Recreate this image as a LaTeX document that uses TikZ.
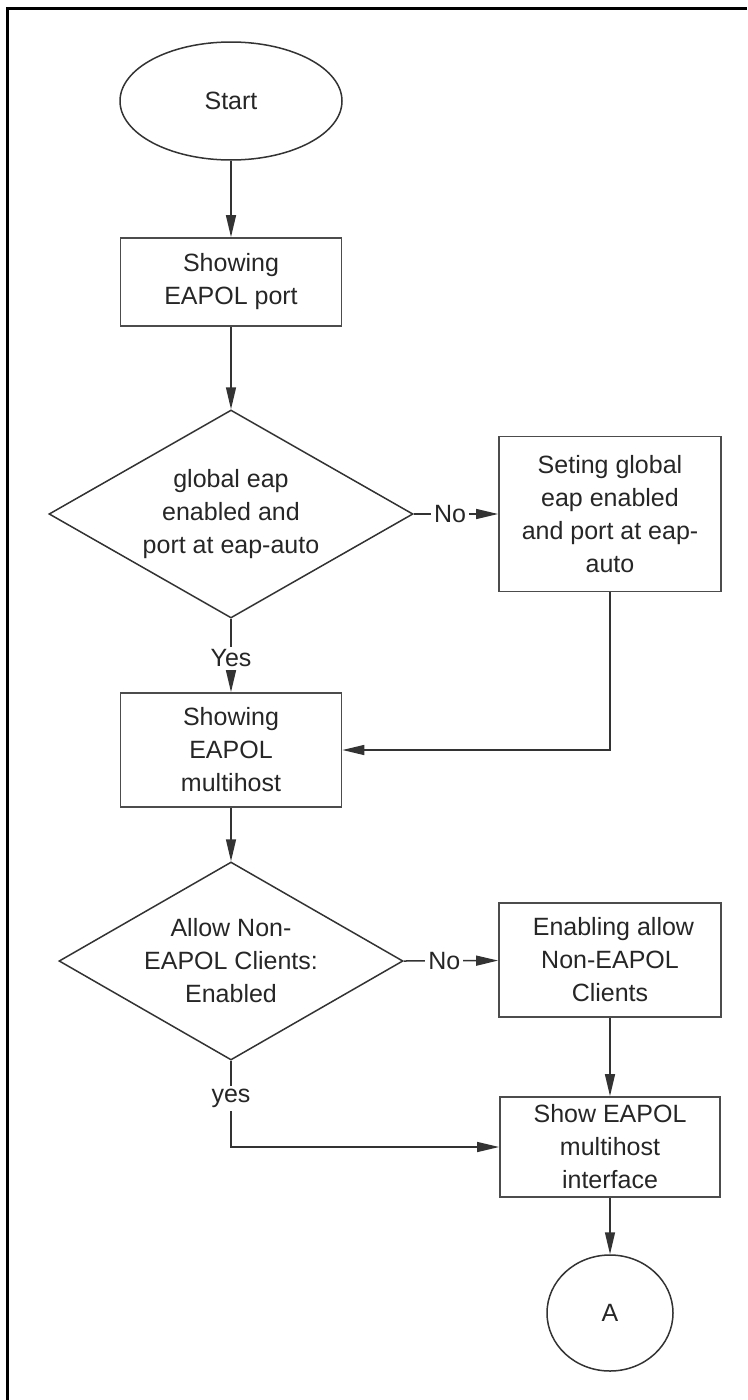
\documentclass[tikz,border=0pt]{standalone}
\usepackage{fontspec}
\setmainfont{Liberation Sans}
\usetikzlibrary{shapes.geometric,arrows.meta}

\tikzset{
  every node/.style={font=\fontsize{25}{33}\selectfont, text=black!85},
  proc/.style={draw=black!70, line width=1.8pt, minimum width=221pt, align=center, inner sep=0pt},
  term/.style={ellipse, draw=black!80, line width=1.5pt, inner sep=0pt},
  decision/.style={diamond, draw=black!80, line width=1.5pt, inner sep=0pt},
  flow/.style={draw=black!80, line width=1.5pt, -{Triangle[length=22pt,width=10pt]}},
  answer/.style={fill=white, inner sep=3pt}
}

\begin{document}
\begin{tikzpicture}[x=1pt,y=-1pt]
  \useasboundingbox (0,0) rectangle (747,1400);
  % frame
  \draw[line width=3pt] (7,1400) -- (7,8) -- (747,8);

  % left column
  \node[term, minimum width=222pt, minimum height=118pt] (start) at (231,101) {Start};
  \node[proc, minimum height=88pt] (showport) at (231,282) {Showing\\EAPOL port};
  \node[decision, minimum width=364pt, minimum height=208pt] (eapchk) at (231,514) {};
  \node[align=center] (eapchktxt) at (231,514) {global eap\\enabled and\\port at eap-auto};
  \node[proc, minimum height=114pt] (showmh) at (231,750) {Showing\\EAPOL\\multihost};
  \node[decision, minimum width=344pt, minimum height=198pt] (nonchk) at (231,961) {};
  \node[align=center] (nonchktxt) at (231,961) {Allow Non-\\EAPOL Clients:\\Enabled};

  % right column
  \node[proc, minimum width=222pt, minimum height=155pt] (seteap) at (610,514) {Seting global\\eap enabled\\and port at eap-\\auto};
  \node[proc, minimum width=222pt, minimum height=114pt] (enanon) at (610,960) {\ Enabling allow\\Non-EAPOL\\Clients};
  \node[proc, minimum width=220pt, minimum height=100pt] (showif) at (610,1147) {Show EAPOL\\multihost\\interface};
  \node[term, minimum width=126pt, minimum height=116pt] (conA) at (610,1313) {A};

  % connectors
  \draw[flow] (start) -- (showport);
  \draw[flow] (showport) -- (eapchk.north);
  \draw[flow] (eapchk.east) -- node[answer, pos=0.43] (no1) {No} (seteap);
  \draw[flow] (eapchk.south) -- node[answer, pos=0.54] (yes1) {Yes} (showmh);
  \draw[flow] (seteap.south) |- (showmh.east);
  \draw[flow] (showmh) -- (nonchk.north);
  \draw[flow] (nonchk.east) -- node[answer, pos=0.43] (no2) {No} (enanon);
  \draw[flow] (nonchk.south) |- node[answer, pos=0.22] (yes2) {yes} (showif.west);
  \draw[flow] (enanon) -- (showif);
  \draw[flow] (showif) -- (conA);
\end{tikzpicture}
\end{document}
